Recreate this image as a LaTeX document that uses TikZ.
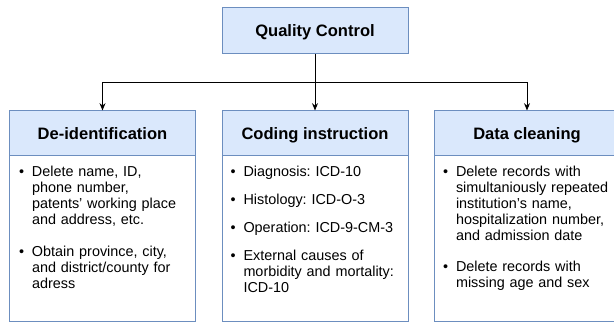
\documentclass[tikz,border=0pt]{standalone}
\usepackage{fontspec}
\setmainfont{Liberation Sans}
\usetikzlibrary{arrows.meta}
\definecolor{headfill}{HTML}{DAE8FC}
\definecolor{headline}{HTML}{6C8EBF}
\frenchspacing
\begin{document}
\begin{tikzpicture}[x=0.75pt,y=-0.75pt,
  every node/.style={inner sep=0pt, outer sep=0pt},
  headbox/.style={draw=headline, fill=headfill, line width=0.75pt,
    minimum width=139.5pt, minimum height=34.125pt,
    font=\bfseries\fontsize{12.4pt}{14pt}\selectfont,
    text height=8.9pt, text depth=0pt},
  bodybox/.style={draw=headline, fill=white, line width=0.75pt,
    minimum width=139.5pt, minimum height=124.5pt, anchor=north},
  item/.style={anchor=base west, text width=135pt, align=left,
    font=\fontsize{10.8pt}{12pt}\selectfont},
  link/.style={draw=black, line width=0.75pt,
    -{Stealth[length=5.5pt,width=4.5pt]}}
]
\useasboundingbox (0,0) rectangle (614,323);

% top box
\node[headbox, minimum height=34.5pt] (qc) at (315,31) {Quality Control};

% column headers
\node[headbox] (h1) at (102.5,133.25) {De-identification};
\node[headbox] (h2) at (315,133.25) {Coding instruction};
\node[headbox] (h3) at (527,133.25) {Data cleaning};

% column bodies
\node[bodybox] (b1) at (h1.south) {};
\node[bodybox] (b2) at (h2.south) {};
\node[bodybox] (b3) at (h3.south) {};
% redraw header bottoms over the body outlines
\draw[headline, line width=0.75pt] (h1.south west) -- (h1.south east);
\draw[headline, line width=0.75pt] (h2.south west) -- (h2.south east);
\draw[headline, line width=0.75pt] (h3.south west) -- (h3.south east);

\newcommand{\bul}{\llap{\textbullet\hspace{5.8pt}}}

% de-identification items
\node[item] (i11) at (32,176.5) {\bul Delete name, ID,\\phone number,\\patents' working place\\and address, etc.};
\node[item] (i12) at (32,256.5) {\bul Obtain province, city,\\and district/county for\\adress};

% coding instruction items
\node[item] (i21) at (243.5,176.5) {\bul Diagnosis: ICD-10};
\node[item] (i22) at (243.5,204.5) {\bul Histology: ICD-O-3};
\node[item] (i23) at (243.5,232.5) {\bul Operation: ICD-9-CM-3};
\node[item] (i24) at (243.5,260.5) {\bul External causes of\\morbidity and mortality:\\ICD-10};

% data cleaning items
\node[item] (i31) at (456,176.5) {\bul Delete records with\\simultaniously repeated\\institution's name,\\hospitalization number,\\and admission date};
\node[item] (i32) at (456,271.5) {\bul Delete records with\\missing age and sex};

% connectors
\coordinate (split) at (315,82.5);
\draw[link] (qc.south) -- (h2.north);
\draw[link] (split) -| (h1.north);
\draw[link] (split) -| (h3.north);
\end{tikzpicture}
\end{document}
